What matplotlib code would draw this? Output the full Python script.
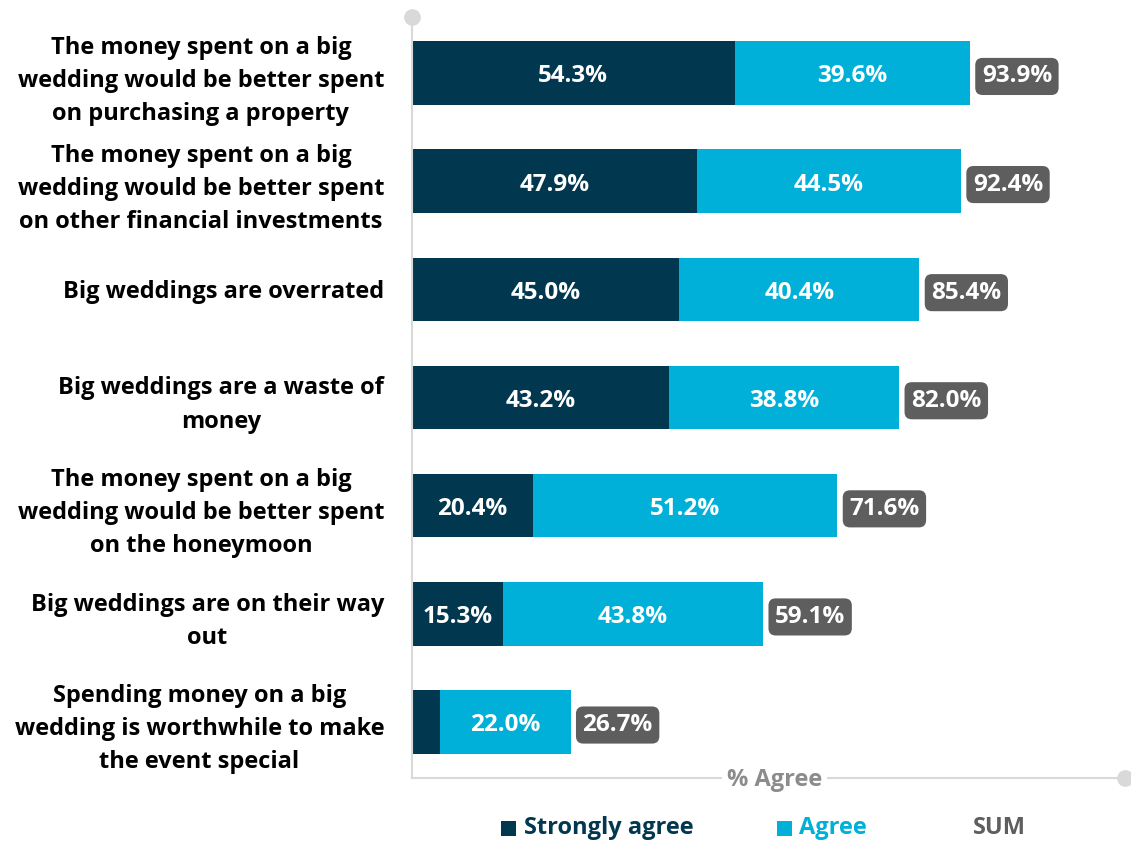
import matplotlib.pyplot as plt
from matplotlib.patches import FancyBboxPatch

plt.rcParams['font.family'] = ['Open Sans', 'DejaVu Sans']

# statements, top to bottom
labels = [
    "The money spent on a big\nwedding would be better spent\non purchasing a property",
    "The money spent on a big\nwedding would be better spent\non other financial investments",
    "Big weddings are overrated",
    "Big weddings are a waste of\nmoney",
    "The money spent on a big\nwedding would be better spent\non the honeymoon",
    "Big weddings are on their way\nout",
    "Spending money on a big\nwedding is worthwhile to make\nthe event special",
]
strongly = [54.3, 47.9, 45.0, 43.2, 20.4, 15.3, 4.7]
agree = [39.6, 44.5, 40.4, 38.8, 51.2, 43.8, 22.0]
total = [93.9, 92.4, 85.4, 82.0, 71.6, 59.1, 26.7]

dark = '#01374f'
cyan = '#00b0d8'
grey = '#5e5e5e'
axis_c = '#d9d9d9'
fs = 17
nfs = 17.5

fig = plt.figure(figsize=(11.31, 8.43), dpi=100)
ax = fig.add_axes([412/1131, 65/843, 713/1131, 761/843])

y = list(range(len(labels)))
ax.barh(y, strongly, height=0.59, color=dark)
ax.barh(y, agree, left=strongly, height=0.59, color=cyan)

ax.set_xlim(0, 120)
ax.set_ylim(6.52, -0.52)
ax.set_xticks([])
ax.set_yticks(y)
ax.set_yticklabels(labels, fontsize=fs, fontweight='bold', color='black', linespacing=1.5)
ax.tick_params(axis='y', length=0, pad=20)
for lbl in ax.get_yticklabels():
    lbl.set_multialignment('center')

for s in ['top', 'right']:
    ax.spines[s].set_visible(False)
for s in ['left', 'bottom']:
    ax.spines[s].set_color(axis_c)
    ax.spines[s].set_linewidth(1.5)

# circle ends of axes
ax.plot([0], [-0.52], 'o', color=axis_c, ms=11, clip_on=False, zorder=5)
ax.plot([120], [6.52], 'o', color=axis_c, ms=11, clip_on=False, zorder=5)

dy = 0.03
for i in y:
    if strongly[i] > 8:
        ax.text(strongly[i] / 2, i + dy, f"{strongly[i]:.1f}%", ha='center', va='center',
                color='white', fontsize=nfs, fontweight='bold')
    ax.text(strongly[i] + agree[i] / 2, i + dy, f"{agree[i]:.1f}%", ha='center', va='center',
            color='white', fontsize=nfs, fontweight='bold')
    ax.text(total[i] + 2.0, i + dy, f"{total[i]:.1f}%", ha='left', va='center',
            color='white', fontsize=nfs, fontweight='bold',
            bbox=dict(boxstyle='round,pad=0.27,rounding_size=0.3', fc=grey, ec='none'))

ax.text(61, 6.52 + 0.02, "% Agree", ha='center', va='center', color='#8c8c8c',
        fontsize=fs, fontweight='bold',
        bbox=dict(boxstyle='square,pad=0.2', fc='white', ec='none'), clip_on=False, zorder=6)

# legend
ly = 1 - 828/843
fig.patches.append(FancyBboxPatch((501/1131, ly - 8/843), 15/1131, 15/843,
                                  boxstyle='square,pad=0', fc=dark, ec='none',
                                  transform=fig.transFigure))
fig.text(524/1131, ly, "Strongly agree", color=dark, fontsize=fs, fontweight='bold', va='center')
fig.patches.append(FancyBboxPatch((777/1131, ly - 8/843), 15/1131, 15/843,
                                  boxstyle='square,pad=0', fc=cyan, ec='none',
                                  transform=fig.transFigure))
fig.text(799/1131, ly, "Agree", color=cyan, fontsize=fs, fontweight='bold', va='center')
fig.text(973/1131, ly, "SUM", color=grey, fontsize=fs, fontweight='bold', va='center')

fig.savefig('out.png', dpi=100)
